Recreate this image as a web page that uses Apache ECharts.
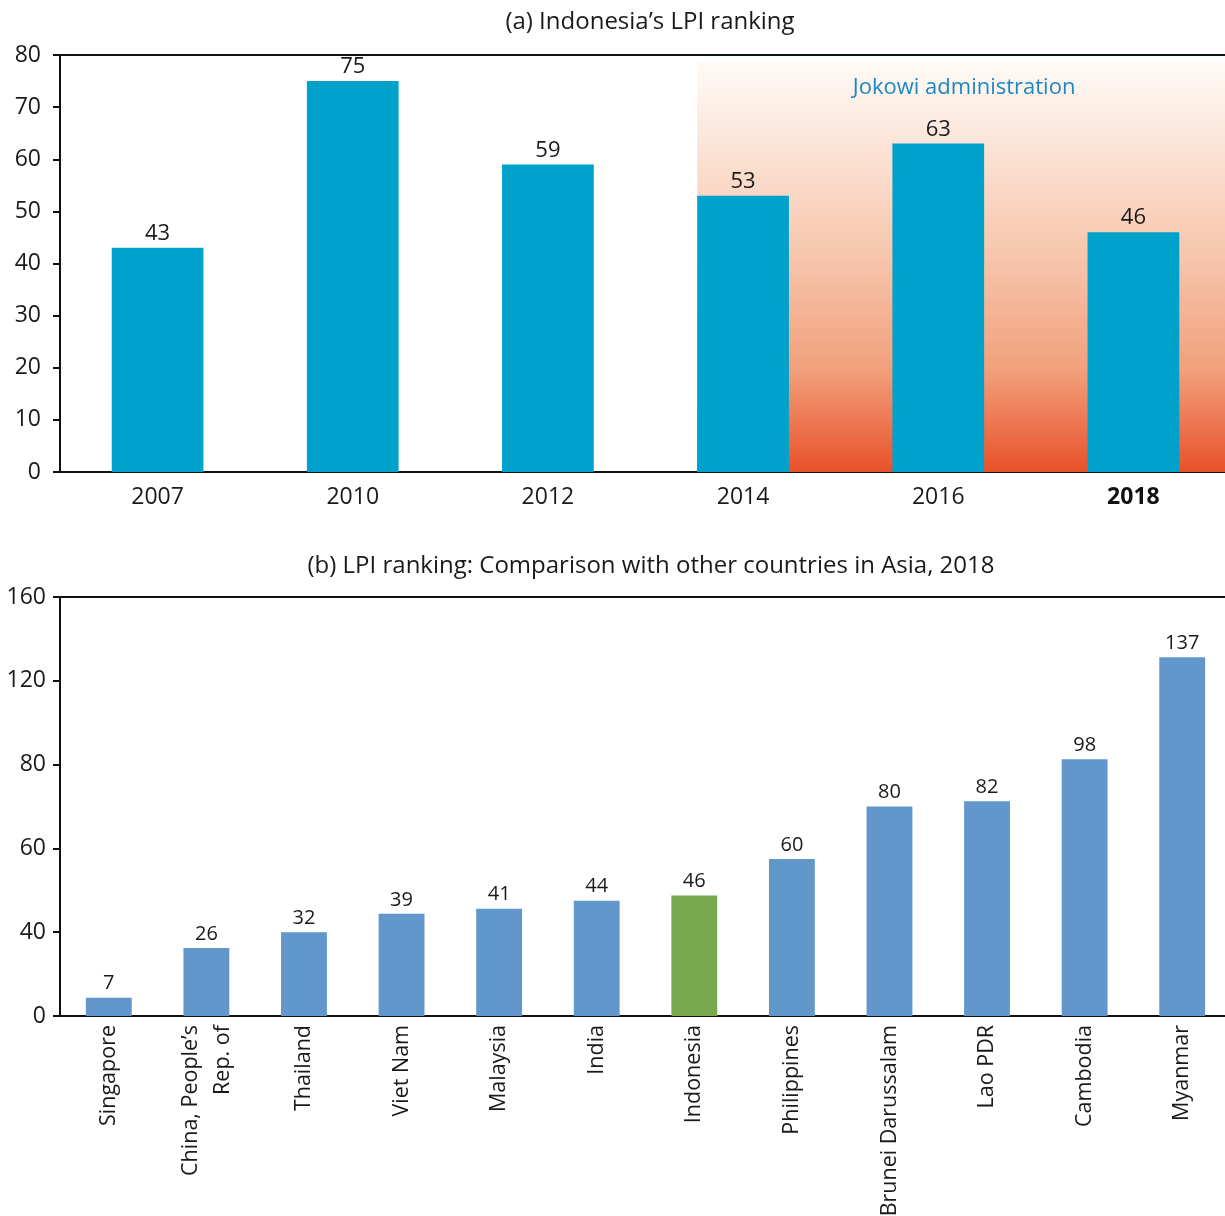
<!DOCTYPE html>
<html>
<head>
<meta charset="utf-8">
<script src="https://cdn.jsdelivr.net/npm/echarts@6/dist/echarts.min.js"></script>
<style>
  html, body { margin: 0; padding: 0; background: #fff; }
  #chart { width: 1225px; height: 1216px; }
</style>
</head>
<body>
<div id="chart"></div>
<script>
// (a) Indonesia's LPI ranking
const years = ["2007", "2010", "2012", "2014", "2016", "2018"];
const indonesiaRank = [43, 75, 59, 53, 63, 46];
const jokowiStart = 3; // index of 2014
const jokowiTop = 78.7;

// (b) comparison with other countries, 2018
const countries = [
  "Singapore", "China, People\u2019s\nRep. of", "Thailand", "Viet Nam", "Malaysia", "India",
  "Indonesia", "Philippines", "Brunei Darussalam", "Lao PDR", "Cambodia", "Myanmar",
];
const asiaRank = [7, 26, 32, 39, 41, 44, 46, 60, 80, 82, 98, 137];
const yTickLabelsB = ["0", "40", "60", "80", "120", "160"];

const FONT = "Open Sans";
const INK = "#1a1a1a";
const BAR_A = "#00a2cb";
const BAR_B = "#6197ca";
const BAR_HI = "#77a84d";
const barFrac = 0.47;

const chart = echarts.init(document.getElementById("chart"), null, { renderer: "canvas" });

const axisLineBlack = { show: true, onZero: false, lineStyle: { color: "#111", width: 2 } };
const yTick = { show: true, length: 7, lineStyle: { color: "#111", width: 2 } };

const option = {
  animation: false,
  textStyle: { fontFamily: FONT },
  title: [
    {
      text: "(a) Indonesia\u2019s LPI ranking",
      left: 645, top: 5, textAlign: "center",
      textStyle: { fontFamily: FONT, fontSize: 24, fontWeight: "normal", color: INK },
    },
    {
      text: "(b) LPI ranking: Comparison with other countries in Asia, 2018",
      left: 646, top: 549, textAlign: "center",
      textStyle: { fontFamily: FONT, fontSize: 24, fontWeight: "normal", color: INK },
    },
  ],
  grid: [
    { left: 60, width: 1171, top: 55, height: 417, outerBoundsMode: "none" },
    { left: 60, width: 1171, top: 597, height: 419, outerBoundsMode: "none" },
  ],
  xAxis: [
    {
      gridIndex: 0, type: "category", data: years,
      axisLine: axisLineBlack, axisTick: { show: false },
      axisLabel: {
        color: INK, fontSize: 23, margin: 14, fontFamily: FONT,
        formatter: (v) => (v === "2018" ? "{b|" + v + "}" : v),
        rich: { b: { fontWeight: "bold", fontSize: 23, fontFamily: FONT, color: "#111" } },
      },
    },
    {
      // helper axis for the shaded administration band, also draws the top frame
      gridIndex: 0, type: "value", position: "top", min: -0.5, max: years.length - 0.5,
      axisLine: axisLineBlack, axisTick: { show: false }, axisLabel: { show: false },
      splitLine: { show: false },
    },
    {
      gridIndex: 1, type: "category", data: countries,
      axisLine: axisLineBlack, axisTick: { show: false },
      axisLabel: { color: INK, fontSize: 21.5, rotate: 90, margin: 9, interval: 0, fontFamily: FONT, lineHeight: 32 },
    },
    {
      gridIndex: 1, type: "category", data: countries, position: "top",
      axisLine: axisLineBlack, axisTick: { show: false }, axisLabel: { show: false },
    },
  ],
  yAxis: [
    {
      gridIndex: 0, type: "value", min: 0, max: 80, interval: 10,
      axisLine: axisLineBlack, axisTick: yTick,
      axisLabel: { color: INK, fontSize: 23, margin: 19, fontFamily: FONT },
      splitLine: { show: false },
    },
    {
      gridIndex: 1, type: "value", min: 0, max: 160, interval: 32,
      axisLine: axisLineBlack, axisTick: yTick,
      axisLabel: {
        color: INK, fontSize: 23, margin: 14, fontFamily: FONT,
        formatter: (v, i) => yTickLabelsB[i],
      },
      splitLine: { show: false },
    },
  ],
  series: [
    {
      type: "line", xAxisIndex: 1, yAxisIndex: 0, data: [], z: 1, silent: true,
      markArea: {
        silent: true,
        itemStyle: {
          color: new echarts.graphic.LinearGradient(0, 0, 0, 1, [
            { offset: 0, color: "#fffaf7" },
            { offset: 0.45, color: "#f7c9b0" },
            { offset: 0.75, color: "#f1a07c" },
            { offset: 1, color: "#e8512a" },
          ]),
        },
        label: {
          show: true, position: "insideTop", distance: 15,
          color: "#1b88c2", fontSize: 22, fontFamily: FONT,
        },
        data: [[
          { name: "Jokowi administration", xAxis: jokowiStart - barFrac / 2, yAxis: 0 },
          { xAxis: years.length - 0.5, yAxis: jokowiTop },
        ]],
      },
    },
    {
      type: "bar", xAxisIndex: 0, yAxisIndex: 0, data: indonesiaRank, z: 3,
      barWidth: barFrac * 100 + "%",
      itemStyle: { color: BAR_A },
      label: { show: true, position: "top", distance: 3, color: INK, fontSize: 22, fontFamily: FONT },
    },
    {
      type: "bar", xAxisIndex: 2, yAxisIndex: 1, z: 3,
      data: asiaRank.map((v, i) => (countries[i] === "Indonesia" ? { value: v, itemStyle: { color: BAR_HI } } : v)),
      barWidth: barFrac * 100 + "%",
      itemStyle: { color: BAR_B },
      label: { show: true, position: "top", distance: 4, color: INK, fontSize: 20, fontFamily: FONT },
    },
  ],
};

chart.setOption(option);
</script>
</body>
</html>
